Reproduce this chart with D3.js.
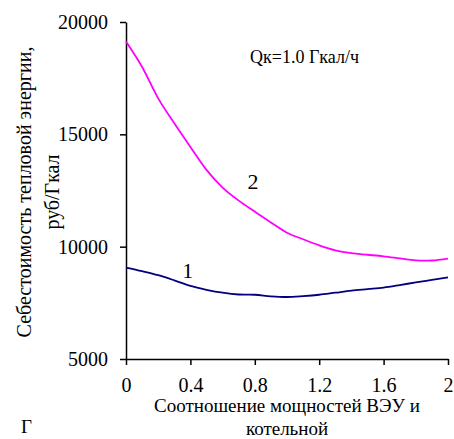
<!DOCTYPE html>
<html>
<head>
<meta charset="utf-8">
<script src="https://cdn.jsdelivr.net/npm/d3@7"></script>
<style>
  body { margin: 0; background: #fff; }
  svg { display: block; }
</style>
</head>
<body>
<script>
// data
let ratios = [0, 0.1, 0.2, 0.3, 0.4, 0.5, 0.6, 0.7, 0.8, 0.9, 1.0,
              1.1, 1.2, 1.3, 1.4, 1.5, 1.6, 1.7, 1.8, 1.9, 2.0];
let cost1 = [9070, 8910, 8730, 8500, 8250, 8080, 7950, 7870, 7860, 7790, 7760,
             7800, 7860, 7950, 8040, 8110, 8180, 8290, 8410, 8520, 8630];
let cost2 = [19130, 18000, 16600, 15490, 14440, 13420, 12630, 12050, 11560, 11080, 10620,
             10330, 10060, 9840, 9710, 9640, 9570, 9480, 9390, 9385, 9470];
let xTicks = [0, 0.4, 0.8, 1.2, 1.6, 2];
let yTicks = [5000, 10000, 15000, 20000];
let yTitle = ["Себестоимость тепловой энергии,", "руб/Гкал"];
let xTitle = ["Соотношение мощностей ВЭУ и", "котельной"];
let note = "Qк=1.0 Гкал/ч";

let width = 454, height = 439;
let margin = {top: 22, right: 6, bottom: 80, left: 126};
let serif = "Liberation Serif";

let svg = d3.select("body").append("svg")
    .attr("width", width)
    .attr("height", height);

let x = d3.scaleLinear([0, 2], [margin.left, width - margin.right]);
let y = d3.scaleLinear([5000, 20000], [height - margin.bottom, margin.top]);

function xAxis(g) {
    g.attr("transform", `translate(0,${height - margin.bottom})`)
     .call(d3.axisBottom(x).tickValues(xTicks).tickFormat(d => String(d))
         .tickSize(6).tickSizeOuter(0).tickPadding(13))
     .attr("font-size", 20)
     .call(g => g.select(".domain").attr("stroke-width", 1.5))
     .call(g => g.selectAll(".tick line").attr("stroke-width", 1.5));
}

function yAxis(g) {
    g.attr("transform", `translate(${margin.left},0)`)
     .call(d3.axisLeft(y).tickValues(yTicks).tickFormat(d3.format("d"))
         .tickSize(6).tickSizeOuter(0).tickPadding(12))
     .attr("font-size", 20)
     .call(g => g.select(".domain").attr("stroke-width", 1.5))
     .call(g => g.selectAll(".tick line").attr("stroke-width", 1.5));
}

svg.append("g").call(xAxis);
svg.append("g").call(yAxis);

let line = d3.line()
    .x((d, i) => x(ratios[i]))
    .y(d => y(d))
    .curve(d3.curveCatmullRom.alpha(0.5));

svg.append("path")
    .datum(cost2)
    .attr("fill", "none")
    .attr("stroke", "#ff00ff")
    .attr("stroke-width", 1.8)
    .attr("d", line);

svg.append("path")
    .datum(cost1)
    .attr("fill", "none")
    .attr("stroke", "#000080")
    .attr("stroke-width", 1.8)
    .attr("d", line);

// curve labels
svg.append("text").attr("x", x(0.35)).attr("y", y(8615))
    .attr("font-size", 22).text("1");
svg.append("text").attr("x", x(0.755)).attr("y", y(12560))
    .attr("font-size", 22).text("2");

svg.append("text").attr("x", 250).attr("y", 63)
    .attr("font-size", 18).text(note);

// axis titles
let cx = (x.range()[0] + x.range()[1]) / 2;
svg.append("text").attr("x", cx).attr("y", 411.5)
    .attr("text-anchor", "middle").attr("font-size", 19).text(xTitle[0]);
svg.append("text").attr("x", cx).attr("y", 435)
    .attr("text-anchor", "middle").attr("font-size", 19).text(xTitle[1]);

let cy = 192;
svg.append("text").attr("transform", `translate(31,${cy}) rotate(-90)`)
    .attr("text-anchor", "middle").attr("font-size", 20).text(yTitle[0]);
svg.append("text").attr("transform", `translate(59,${cy}) rotate(-90)`)
    .attr("text-anchor", "middle").attr("font-size", 20).text(yTitle[1]);

svg.append("text").attr("x", 21).attr("y", 433)
    .attr("font-size", 19).text("Г");

// serif everywhere, set on each text node
svg.selectAll("text").style("font-family", serif);
</script>
</body>
</html>
